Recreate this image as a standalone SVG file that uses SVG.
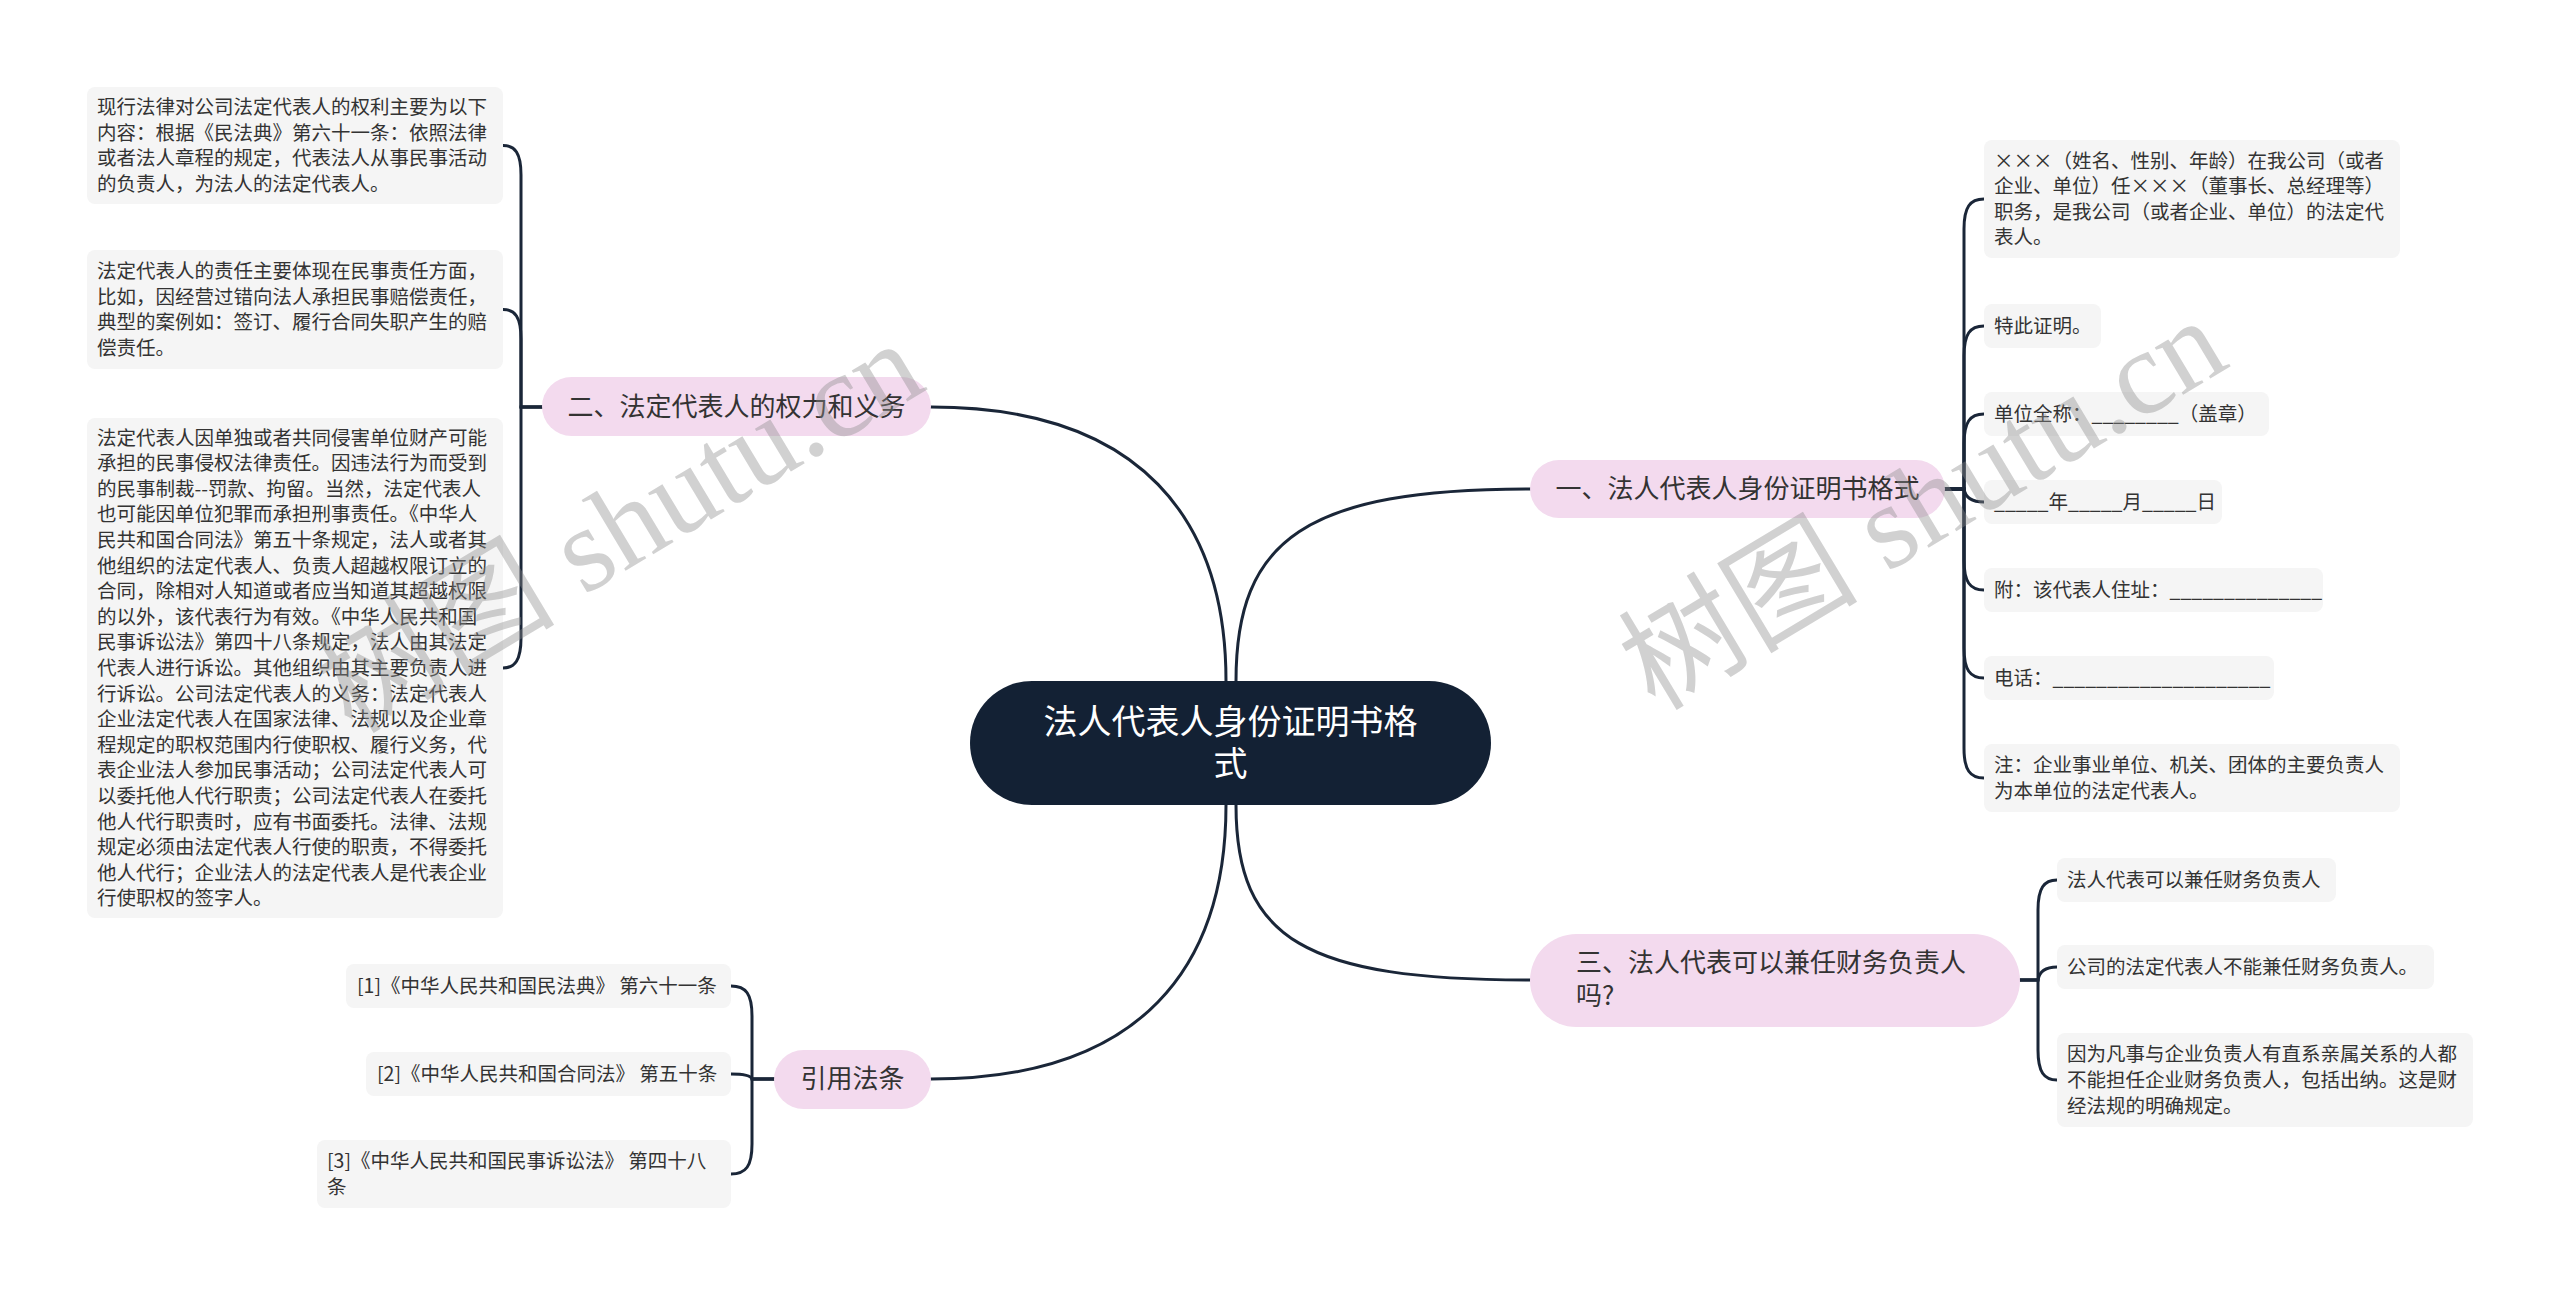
<svg xmlns="http://www.w3.org/2000/svg" width="2560" height="1295" viewBox="0 0 2560 1295">
<style>
.bg{fill:#ffffff}
.leaf{fill:#f5f5f5}
.pill{fill:#f3daee}
.root{fill:#132134}
.lt{font-family:"Noto Sans CJK SC","Noto Sans",sans-serif;font-size:19.5px;fill:#333333}
.pt{font-family:"Noto Sans CJK SC","Noto Sans",sans-serif;font-size:26px;fill:#333333}
.rt{font-family:"Noto Sans CJK SC","Noto Sans",sans-serif;font-size:34px;fill:#ffffff}
.ln{fill:none;stroke:#1a2638;stroke-width:3;stroke-linecap:round}
.wm{font-family:"Liberation Serif","Noto Sans CJK SC",serif;font-size:120px;fill:#8c8c8c;fill-opacity:0.4}
</style>
<rect class="bg" x="0" y="0" width="2560" height="1295"/>

<g id="connectors">
  <path class="ln" d="M1226,681 C1226,522 1143,407 931,407"/>
  <path class="ln" d="M1236,681 C1236,539 1306,489 1530,489"/>
  <path class="ln" d="M1236,805 C1236,940 1306,980 1530,980"/>
  <path class="ln" d="M1226,805 C1226,965 1143,1079 931,1079"/>
  <path class="ln" d="M542,407 H521 V175 C521,153 515,145.5 503,145.5"/>
  <path class="ln" d="M542,407 H521 V339 C521,317 515,309.5 503,309.5"/>
  <path class="ln" d="M542,407 H521 V638 C521,660 515,668 503,668"/>
  <path class="ln" d="M1945,489 H1964 V229 C1964,207 1970,199 1984,199"/>
  <path class="ln" d="M1945,489 H1964 V356 C1964,334 1970,326 1984,326"/>
  <path class="ln" d="M1945,489 H1964 V444 C1964,422 1970,414 1984,414"/>
  <path class="ln" d="M1945,489 H1964 Q1966,502 1984,502"/>
  <path class="ln" d="M1945,489 H1964 V560 C1964,582 1970,590 1984,590"/>
  <path class="ln" d="M1945,489 H1964 V648 C1964,670 1970,678 1984,678"/>
  <path class="ln" d="M1945,489 H1964 V748 C1964,770 1970,778 1984,778"/>
  <path class="ln" d="M2020,980 H2038 V910 C2038,888 2044,880 2057,880"/>
  <path class="ln" d="M2020,980 H2038 Q2040,967 2057,967"/>
  <path class="ln" d="M2020,980 H2038 V1050 C2038,1072 2044,1080 2057,1080"/>
  <path class="ln" d="M774,1079 H752 V1016 C752,994 746,986 731,986"/>
  <path class="ln" d="M774,1079 H752 Q750,1074 731,1074"/>
  <path class="ln" d="M774,1079 H752 V1144 C752,1166 746,1174 731,1174"/>
</g>

<g id="root">
  <rect class="root" x="970" y="681" width="521" height="124" rx="62"/>
  <text class="rt" text-anchor="middle"><tspan x="1230.5" y="734">法人代表人身份证明书格</tspan><tspan x="1230.5" y="776">式</tspan></text>
</g>

<g id="b2">
  <rect class="pill" x="542" y="377" width="389" height="59" rx="29.5"/>
  <text class="pt" x="736.5" y="416" text-anchor="middle">二、法定代表人的权力和义务</text>
</g>
<g id="b1">
  <rect class="pill" x="1530" y="460" width="415" height="58" rx="29"/>
  <text class="pt" x="1737.5" y="498" text-anchor="middle">一、法人代表人身份证明书格式</text>
</g>
<g id="b3">
  <rect class="pill" x="1530" y="934" width="490" height="93" rx="46.5"/>
  <text class="pt"><tspan x="1576" y="972">三、法人代表可以兼任财务负责人</tspan><tspan x="1576" y="1005">吗?</tspan></text>
</g>
<g id="b4">
  <rect class="pill" x="774" y="1050" width="157" height="59" rx="29.5"/>
  <text class="pt" x="852.5" y="1088" text-anchor="middle">引用法条</text>
</g>

<g id="l1">
  <rect class="leaf" x="87" y="87" width="416" height="117" rx="8"/>
  <text class="lt"><tspan x="97" y="114">现行法律对公司法定代表人的权利主要为以下</tspan><tspan x="97" y="140">内容：根据《民法典》第六十一条：依照法律</tspan><tspan x="97" y="165">或者法人章程的规定，代表法人从事民事活动</tspan><tspan x="97" y="191">的负责人，为法人的法定代表人。</tspan></text>
</g>
<g id="l2">
  <rect class="leaf" x="87" y="250" width="416" height="119" rx="8"/>
  <text class="lt"><tspan x="97" y="278">法定代表人的责任主要体现在民事责任方面，</tspan><tspan x="97" y="304">比如，因经营过错向法人承担民事赔偿责任，</tspan><tspan x="97" y="329">典型的案例如：签订、履行合同失职产生的赔</tspan><tspan x="97" y="355">偿责任。</tspan></text>
</g>
<g id="l3">
  <rect class="leaf" x="87" y="418" width="416" height="500" rx="8"/>
  <text class="lt">
    <tspan x="97" y="444.6">法定代表人因单独或者共同侵害单位财产可能</tspan>
    <tspan x="97" y="470.2">承担的民事侵权法律责任。因违法行为而受到</tspan>
    <tspan x="97" y="495.8">的民事制裁--罚款、拘留。当然，法定代表人</tspan>
    <tspan x="97" y="521.4">也可能因单位犯罪而承担刑事责任。《中华人</tspan>
    <tspan x="97" y="547">民共和国合同法》第五十条规定，法人或者其</tspan>
    <tspan x="97" y="572.6">他组织的法定代表人、负责人超越权限订立的</tspan>
    <tspan x="97" y="598.2">合同，除相对人知道或者应当知道其超越权限</tspan>
    <tspan x="97" y="623.8">的以外，该代表行为有效。《中华人民共和国</tspan>
    <tspan x="97" y="649.4">民事诉讼法》第四十八条规定，法人由其法定</tspan>
    <tspan x="97" y="675">代表人进行诉讼。其他组织由其主要负责人进</tspan>
    <tspan x="97" y="700.6">行诉讼。公司法定代表人的义务：法定代表人</tspan>
    <tspan x="97" y="726.2">企业法定代表人在国家法律、法规以及企业章</tspan>
    <tspan x="97" y="751.8">程规定的职权范围内行使职权、履行义务，代</tspan>
    <tspan x="97" y="777.4">表企业法人参加民事活动；公司法定代表人可</tspan>
    <tspan x="97" y="803">以委托他人代行职责；公司法定代表人在委托</tspan>
    <tspan x="97" y="828.6">他人代行职责时，应有书面委托。法律、法规</tspan>
    <tspan x="97" y="854.2">规定必须由法定代表人行使的职责，不得委托</tspan>
    <tspan x="97" y="879.8">他人代行；企业法人的法定代表人是代表企业</tspan>
    <tspan x="97" y="905.4">行使职权的签字人。</tspan>
  </text>
</g>

<g id="c1">
  <rect class="leaf" x="346" y="964" width="385" height="44" rx="8"/>
  <text class="lt" x="357" y="993">[1]《中华人民共和国民法典》 第六十一条</text>
</g>
<g id="c2">
  <rect class="leaf" x="366" y="1052" width="365" height="44" rx="8"/>
  <text class="lt" x="377" y="1081">[2]《中华人民共和国合同法》 第五十条</text>
</g>
<g id="c3">
  <rect class="leaf" x="317" y="1140" width="414" height="68" rx="8"/>
  <text class="lt"><tspan x="327" y="1168">[3]《中华人民共和国民事诉讼法》 第四十八</tspan><tspan x="327" y="1194">条</tspan></text>
</g>

<g id="r1">
  <rect class="leaf" x="1984" y="140" width="416" height="118" rx="8"/>
  <text class="lt"><tspan x="1994" y="167.6">×××（姓名、性别、年龄）在我公司（或者</tspan><tspan x="1994" y="193.2">企业、单位）任×××（董事长、总经理等）</tspan><tspan x="1994" y="218.8">职务，是我公司（或者企业、单位）的法定代</tspan><tspan x="1994" y="244.4">表人。</tspan></text>
</g>
<g id="r2">
  <rect class="leaf" x="1984" y="304" width="117" height="44" rx="8"/>
  <text class="lt" x="1994" y="333">特此证明。</text>
</g>
<g id="r3">
  <rect class="leaf" x="1984" y="392" width="285" height="44" rx="8"/>
  <text class="lt" x="1994" y="421">单位全称：________（盖章）</text>
</g>
<g id="r4">
  <rect class="leaf" x="1984" y="480" width="238" height="44" rx="8"/>
  <text class="lt" x="1994" y="509">_____年_____月_____日</text>
</g>
<g id="r5">
  <rect class="leaf" x="1984" y="568" width="339" height="44" rx="8"/>
  <text class="lt" x="1994" y="597">附：该代表人住址：______________</text>
</g>
<g id="r6">
  <rect class="leaf" x="1984" y="656" width="290" height="44" rx="8"/>
  <text class="lt" x="1994" y="685">电话：____________________</text>
</g>
<g id="r7">
  <rect class="leaf" x="1984" y="744" width="416" height="68" rx="8"/>
  <text class="lt"><tspan x="1994" y="772">注：企业事业单位、机关、团体的主要负责人</tspan><tspan x="1994" y="798">为本单位的法定代表人。</tspan></text>
</g>

<g id="t1">
  <rect class="leaf" x="2057" y="858" width="279" height="44" rx="8"/>
  <text class="lt" x="2067" y="887">法人代表可以兼任财务负责人</text>
</g>
<g id="t2">
  <rect class="leaf" x="2057" y="945" width="377" height="44" rx="8"/>
  <text class="lt" x="2067" y="974">公司的法定代表人不能兼任财务负责人。</text>
</g>
<g id="t3">
  <rect class="leaf" x="2057" y="1033" width="416" height="94" rx="8"/>
  <text class="lt"><tspan x="2067" y="1061">因为凡事与企业负责人有直系亲属关系的人都</tspan><tspan x="2067" y="1087">不能担任企业财务负责人，包括出纳。这是财</tspan><tspan x="2067" y="1113">经法规的明确规定。</tspan></text>
</g>

<g id="watermarks">
  <text class="wm" transform="translate(352,735) rotate(-31)">树图 shutu.cn</text>
  <text class="wm" transform="translate(1655,712) rotate(-31)">树图 shutu.cn</text>
</g>
</svg>
